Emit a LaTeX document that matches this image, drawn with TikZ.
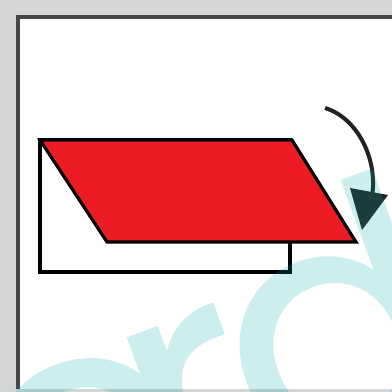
\documentclass[tikz,border=0pt]{standalone}
\usepackage{fontspec}
\newfontfamily\wmfont{Poppins}[FakeBold=0.6]
\definecolor{bggray}{RGB}{211,213,215}
\definecolor{framec}{RGB}{70,70,72}
\definecolor{redfill}{RGB}{237,28,36}
\definecolor{arrowc}{RGB}{34,34,34}
\definecolor{wmcol}{RGB}{0,170,170}
\tikzset{
  outline/.style={draw=black, line width=3.2pt, line join=miter},
  turnarrow/.style={draw=arrowc, line width=4pt},
  watermark/.style={text=wmcol, font=\wmfont\fontsize{340}{340}\selectfont, inner sep=0pt, rotate=20, anchor=base west}
}
\begin{document}
\begin{tikzpicture}[x=1pt,y=-1pt]
\useasboundingbox (0,0) rectangle (392,392);
\fill[bggray] (0,0) rectangle (392,392);
\fill[white] (17,16) rectangle (392,389);
\draw[framec, line width=4pt] (17.5,389) -- (17.5,16.5) -- (392,16.5);
% white rectangle
\draw[outline, fill=white] (40,140) rectangle (290,272);
% red parallelogram
\draw[outline, fill=redfill] (40,140) -- (292,140) -- (356,242) -- (107,242) -- cycle;
% curved arrow
\coordinate (as) at (325,108);
\coordinate (ae) at (372,196);
\draw[turnarrow] (as) .. controls (358,118) and (378,160) .. (ae);
\fill[arrowc] (350,188) -- (388,195) -- (362,230) -- cycle;
% watermark
\begin{scope}
\clip (0,0) rectangle (392,392);
\begin{scope}[transparency group, opacity=0.2]
\node[watermark] (wme) at (21,580) {e};
\node[watermark] (wmr) at (167,522) {r};
\node[watermark] (wmd) at (266,476) {d};
\end{scope}
\end{scope}
\end{tikzpicture}
\end{document}
